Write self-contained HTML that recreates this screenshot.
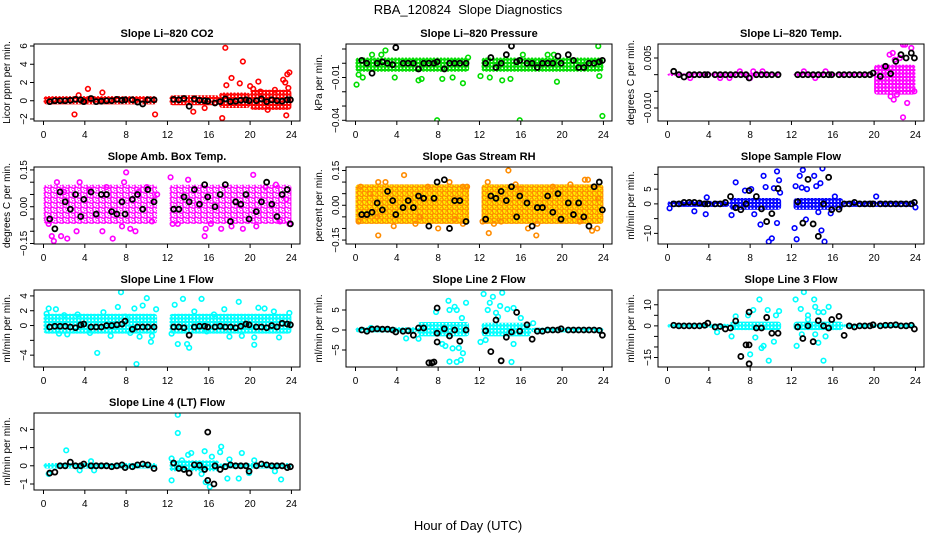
<!DOCTYPE html>
<html><head><meta charset="utf-8"><style>
body{margin:0;background:#fff}
svg{display:block;font-family:"Liberation Sans",sans-serif}
</style></head><body>
<svg id="c" width="936" height="540" viewBox="0 0 936 540">
<defs>
<pattern id="pat-red" width="3.5" height="3.5" patternUnits="userSpaceOnUse"><circle cx="1.75" cy="1.75" r="1.6" fill="none" stroke="#ff0000" stroke-width="1.4"/></pattern>
<pattern id="pat-green" width="3.5" height="3.5" patternUnits="userSpaceOnUse"><circle cx="1.75" cy="1.75" r="1.6" fill="none" stroke="#00dd00" stroke-width="1.4"/></pattern>
<pattern id="pat-magenta" width="3.5" height="3.5" patternUnits="userSpaceOnUse"><circle cx="1.75" cy="1.75" r="1.6" fill="none" stroke="#ff00ff" stroke-width="1.4"/></pattern>
<pattern id="pat-magenta-sparse" width="6" height="5" patternUnits="userSpaceOnUse"><circle cx="1.5" cy="1.5" r="1.8" fill="none" stroke="#ff00ff" stroke-width="1.4"/><circle cx="4.5" cy="4" r="1.8" fill="none" stroke="#ff00ff" stroke-width="1.4"/></pattern>
<pattern id="pat-orange" width="5" height="4.5" patternUnits="userSpaceOnUse"><rect width="5" height="4.5" fill="#ffee00"/><circle cx="1.5" cy="1.5" r="1.7" fill="none" stroke="#ff8c00" stroke-width="1.3"/><circle cx="4" cy="3.8" r="1.7" fill="none" stroke="#ff8c00" stroke-width="1.3"/></pattern>
<pattern id="pat-blue" width="3.5" height="3.5" patternUnits="userSpaceOnUse"><circle cx="1.75" cy="1.75" r="1.6" fill="none" stroke="#0000ff" stroke-width="1.4"/></pattern>
<pattern id="pat-cyan" width="3.5" height="3.5" patternUnits="userSpaceOnUse"><circle cx="1.75" cy="1.75" r="1.6" fill="none" stroke="#00ffff" stroke-width="1.4"/></pattern>
</defs>
<text x="468" y="14" text-anchor="middle" font-size="13" xml:space="preserve">RBA_120824  Slope Diagnostics</text>
<text x="468" y="530" text-anchor="middle" font-size="13">Hour of Day (UTC)</text>
</svg>
<script>
const blackTimes=[0.6,1.1,1.6,2.1,2.6,3.1,3.6,3.9,4.6,5.1,5.6,6.1,6.6,7.1,7.6,7.9,8.6,9.1,9.6,10.1,10.7,
12.6,13.1,13.6,14.1,14.6,15.1,15.6,15.9,16.6,17.1,17.6,18.1,18.6,19.1,19.6,19.9,20.6,21.1,21.6,22.1,22.6,23.1,23.6,23.9];
const xTicks=[0,4,8,12,16,20,24];

const p1Black=[-0.1,0,0,0,0.05,0.15,0.1,-0.1,0.25,-0.1,-0.05,0,0,0.15,0.05,0.1,0.1,-0.15,-0.35,0.1,0.1,
0.15,0.1,0.25,-0.6,0.2,0.05,0,-0.05,-0.25,-0.1,0.2,-0.1,-0.05,0.05,0.1,0,0,0.2,-0.1,0.1,0,-0.05,0.1,0.1];
const p1SegStart=[0,12.2,17,20], p1SegEnd=[11,17,20,24], p1Lo=[-0.4,-0.5,-0.8,-1.0], p1Hi=[0.5,0.6,0.9,1.2];
const p1Out=[[3,-1.5],[4.3,1.3],[5.7,0.9],[10.8,-1.5],[3.4,0.6],[17.6,5.8],[19.3,4.3],[17.7,1.7],[18.2,2.5],[19,1.9],[20.8,2.1],[20,1.6],[20.3,1.3],[23.2,2.3],[23.4,2.0],[23.6,2.9],[23.8,3.1],[23.7,1.4],[23.5,-1.6],[17.3,-1.9],[14.5,-1.2],[15.6,-0.8],[21.7,-1.0],[22.4,1.2],[21,1.0]];

const p2Black=[0.002,0,-0.007,0,0.001,0,-0.001,0.011,0,0,0,-0.004,0,0,0,0.001,-0.004,0,0,0,0,
0,0.004,-0.003,0,0.006,0.012,0.001,0.002,0,0,-0.003,0,0,0,0.005,0,0.006,0.002,-0.003,-0.003,0,0,0.001,0.002];
const p2SegStart=[0,12.2], p2SegEnd=[11,24], p2Lo=[-0.006,-0.006], p2Hi=[0.004,0.004];
const p2Out=[[0.1,-0.015],[0.3,-0.008],[0.7,-0.01],[2.9,0.009],[3.8,-0.01],[6.1,-0.012],[6.4,-0.011],[7.9,-0.04],[8.4,-0.011],[9.4,-0.01],[10.4,-0.014],[10.9,0.004],[12.1,-0.009],[13,-0.01],[14.2,-0.012],[15,-0.011],[15.9,-0.04],[16.2,0.006],[18.6,0.006],[19.2,0.006],[19.5,-0.013],[23.5,0.012],[23.6,-0.009],[23.9,-0.037],[1.6,0.006],[2.5,0.006]];

const p3Black=[0.001,0,-0.0007,0,0,0,0,0,0,0,0,0,0,0,0,-0.001,0,0,0,0,0,
0,0,0,0,0,0,0,0,0,0,0,0,0,0,0,0.0005,-0.0005,0.0025,0.0003,0.004,0.006,0.005,0.0065,0.005];
const p3SegStart=[0,12.2,20], p3SegEnd=[11,20,24], p3Lo=[-0.0004,-0.0004,-0.006], p3Hi=[0.0004,0.0004,0.003];
const p3Out=[[21.5,0.006],[21.8,0.0065],[22,0.0045],[22.5,0.005],[23,0.009],[22.8,0.009],[23.6,0.008],[23.2,-0.0085],[22.8,-0.0128],[23.9,-0.005],[21.9,-0.0075],[22.2,-0.006],[21.6,-0.0065],[7,0.001],[8.3,0.001],[9.2,0.001],[13.2,0.001],[15.3,0.001],[6,-0.001],[8,-0.001],[14.3,-0.001],[5.1,-0.001],[2.2,-0.001]];

const p4Black=[-0.05,-0.09,0.06,0.02,-0.01,0.05,-0.04,0.03,0.06,-0.03,0.05,0.05,-0.02,-0.03,0.02,-0.03,0.03,0.05,-0.01,0.07,0.02,
-0.01,-0.01,0.04,0.02,0.07,0.01,0.09,0.04,0,0.05,0.09,-0.06,0.02,0.01,0.05,-0.05,-0.02,0.02,0.1,0.01,-0.04,0.05,0.07,-0.07];
const p4SegStart=[0,12.2], p4SegEnd=[11,24], p4Lo=[-0.07,-0.07], p4Hi=[0.09,0.09];
const p4Out=[[0.5,-0.07],[0.8,-0.12],[1.0,-0.14],[1.3,0.1],[1.7,-0.12],[2,0.06],[2.3,-0.13],[3.2,-0.1],[3.5,0.1],[4.5,0.07],[5.7,-0.1],[6.1,0.08],[6.7,-0.13],[7.6,-0.08],[7.8,0.1],[8,0.14],[8.4,-0.09],[8.9,-0.1],[9.2,0.06],[10,0.08],[10.5,-0.06],[11,0.05],[12.3,0.12],[12.5,-0.07],[13,-0.07],[14,0.11],[15.6,-0.12],[15.7,-0.09],[16.2,-0.07],[17.2,-0.09],[18.2,-0.08],[19.3,-0.09],[20.3,0.13],[20.6,-0.08],[21.5,0.08],[22.5,0.09],[22.9,-0.06],[23.5,0.03],[23.8,-0.07]];

const p5Black=[-0.04,-0.04,-0.03,0.01,-0.02,0.06,0.02,-0.04,-0.01,0.02,-0.01,0.04,0.03,-0.09,0.03,0.10,0.11,-0.1,0.02,0.02,-0.07,
-0.06,0.04,0.03,0.06,0.02,0.08,-0.05,0.04,0.01,-0.09,-0.01,-0.01,0.04,-0.03,0.05,-0.06,0.01,-0.04,0.01,-0.05,-0.09,0.08,0.1,-0.02];
const p5SegStart=[0,12.2], p5SegEnd=[11,24], p5Lo=[-0.08,-0.08], p5Hi=[0.09,0.09];
const p5Out=[[0.5,0.08],[0.3,-0.07],[1.4,0.05],[2.2,0.1],[2.9,0.1],[2.1,-0.05],[2.2,-0.13],[3.7,-0.09],[4.7,0.13],[5.8,-0.08],[6.2,-0.05],[7,0.08],[8,-0.1],[9.1,0.1],[9.6,-0.06],[10.4,-0.08],[10.4,0.08],[10.8,0.08],[12.3,-0.07],[12.8,0.1],[12.9,-0.12],[13.4,-0.08],[14.1,-0.07],[14.8,0.15],[15.5,0.09],[16,0.07],[16.7,-0.1],[17.5,-0.13],[17.6,-0.08],[19.1,0.08],[20.8,0.09],[21.7,-0.07],[22.2,0.11],[22.5,0.11],[22.9,-0.11],[23.4,-0.1],[23.5,0.03]];

const p6Black=[0,0,0.5,0.5,0.5,0.3,0,0,0,0,0.5,2.5,-1.3,-2,0,4.5,2.5,-1.7,-6,-3.3,5.2,
0.7,-6.5,8.3,-6.8,-11,0,9,-2,-1.8,0,0,0.5,0,0,0,0,0,0,0,0,0,0,0,0.5];
const p6SegStart=[0,6,12.2,17], p6SegEnd=[6,11,17,24], p6Lo=[-1,-2,-2,-1], p6Hi=[1,2,2,1];
const p6Out=[[0.2,-1.5],[3.7,-3.5],[2.6,-2.5],[3.8,2.2],[6.2,-3.8],[6.6,7.3],[7.5,4.5],[8.1,5],[8.4,-3.5],[9,-7],[9.3,9.5],[9.5,5.7],[9.8,-12.8],[10.1,-11.7],[10.3,5.3],[10.6,-6.5],[10.6,11],[10.8,8],[10.9,3.8],[12.3,-8.2],[12.4,6],[12.5,-12],[12.8,9.5],[13,5.5],[13.1,11.5],[13.5,5],[13.4,-5.3],[14.2,9.5],[14.4,6],[14.6,-2.8],[14.8,7],[14.9,-9],[15,12],[15.2,-12.8],[15.8,-3.2],[16.2,2.5],[20.2,2.5],[24,-1.2]];

const p7Black=[-0.2,-0.1,-0.1,-0.1,-0.2,-0.3,0.1,0.2,-0.2,-0.2,-0.2,0,0,0.1,0.2,0.6,-0.5,-0.2,-0.2,-0.2,-0.2,
-0.2,-0.2,-0.3,-1.3,-0.2,-0.1,-0.1,-0.2,-0.2,-0.1,-0.2,-0.2,-0.3,-0.1,0.2,0.1,-0.2,-0.2,-0.3,0,-0.2,0.3,0.2,0.1];
const p7SegStart=[0,12.2], p7SegEnd=[11,24], p7Lo=[-1.1,-1.1], p7Hi=[1.6,1.6];
const p7Out=[[0.3,1.6],[0.5,2.3],[1.2,2.2],[1.5,-1.1],[2,1.4],[2.3,-1.2],[3.3,1.5],[4.5,-1],[5.2,-3.7],[5.8,1.8],[6.5,-1.4],[7.2,2.5],[7.5,4.5],[7.9,1.2],[8.4,-1],[8.8,2.3],[9,-5.2],[9.3,-1.5],[9.6,2.7],[10,3.7],[10.4,-2.2],[10.5,-1.4],[10.9,2.2],[12.4,-1.1],[12.7,2.8],[13,-2.5],[13.5,3.6],[13.9,-2.5],[14.1,-3],[14.6,1.9],[15.3,3.6],[15.8,-0.8],[16.5,1.5],[17.5,2.2],[18,-1.5],[18.9,3.2],[19.2,-1.4],[20.4,-1.6],[20.4,-2.6],[20.8,2.4],[21.4,2.3],[22.3,1.9],[22.8,-1.6],[23.8,1.7]];

const p8Black=[0,-0.3,0.2,0.3,0.2,0.2,0,-0.5,-0.3,-0.2,-1.3,0.5,0.5,-8.2,-8,5.5,0.3,-1.5,0,-2.8,0,
-0.2,-5.4,2.5,-7.7,-1.8,-0.5,4.4,-0.3,1.3,-2.3,-0.3,-0.3,0,0,0,0.3,0,0,0,0,0,0,-0.1,-1.3];
const p8SegStart=[0,6,12.2,17], p8SegEnd=[6,11,17,24], p8Lo=[-0.6,-1.6,-1.6,-0.6], p8Hi=[0.7,2,1.8,0.6];
const p8Out=[[1.5,0.5],[4.9,-2.1],[6.1,-2.2],[7.8,4.5],[8.4,-3.5],[8.7,-4],[9,7.3],[9.1,5],[9.1,-7.9],[9.4,-4.6],[9.6,5.8],[9.8,5],[9.8,-8],[10,-4.5],[10.2,-7.5],[10.3,3],[10.4,-5.8],[10.7,6.8],[12.1,-3],[12.4,9],[12.6,-2.5],[12.8,5],[13,6.8],[13.3,8.3],[13.6,4.3],[13.8,3.3],[14,6],[14.2,9.3],[14.7,5.2],[15.1,-8],[15.3,-3.5],[15.3,5.5],[16,3],[17.2,1.7]];
const p8Extra=[[7.9,-3],[7.9,-0.8],[7.4,-8.2]];

const p9Black=[0.3,0,0,0,0,0,0.3,1.3,-0.5,-0.3,-1.5,-1,2.3,-14.5,-9,6.5,-1,-1,4,-3.5,-3.5,
-0.5,-6,0,-7.5,2.5,0,-1,3,4.5,-4.5,0,-0.5,0,0,0,0.5,0,0.3,0.3,0.5,0,0,0.3,-1.5];
const p9SegStart=[0,6,12.2,17], p9SegEnd=[6,11,17,24], p9Lo=[-1,-2,-2,-1], p9Hi=[1,2,2,1];
const p9Out=[[4.8,-3],[6.2,-5],[6.6,4.5],[7.8,5],[8,-13.5],[8.3,7.5],[8.5,-5.5],[8.9,12.5],[9.1,-10.5],[9.3,-9.5],[9.8,-16.5],[9.7,7.5],[10.3,-7.5],[10.5,5],[10.8,7],[12.4,12.5],[12.5,-9.5],[12.9,8],[13,-4],[13.2,16],[13.6,5],[14.2,12.5],[14.3,9],[14.6,-8],[14.6,6.5],[15.1,-16.5],[15.1,6.5],[15.3,-5],[15.6,9],[13.6,3],[14.3,-4]];
const p9Extra=[[7.9,-18],[7.9,-9]];

const p10Black=[-0.4,-0.35,0,0,0.2,0,0,0.1,0,0,0,0,-0.05,0,0.05,-0.1,-0.05,0.05,0.1,0.05,-0.15,
0.15,-0.15,-0.2,-0.4,0.05,0.03,-0.2,1.85,0,-0.2,-0.05,0.05,0,0,0,-0.3,0,0.1,0.05,0,0,0,-0.1,-0.05];
const p10SegStart=[0,12.2,17], p10SegEnd=[11,17,24], p10Lo=[-0.15,-0.3,-0.15], p10Hi=[0.15,0.3,0.15];
const p10Out=[[0.5,-0.45],[2.2,0.85],[3.5,-0.25],[4.6,0.25],[4.9,-0.25],[12.4,-0.8],[12.4,0.4],[13,2.8],[13,1.8],[13.4,0.3],[14,0.6],[14.3,0.7],[15.3,-0.45],[15.6,0.8],[15.7,-0.9],[16.1,-1.15],[16.3,0.5],[17.1,0.75],[17.2,1.05],[17.8,-0.7],[18,0.35],[18.9,-0.7],[19.2,0.7],[19.9,-0.4],[20.4,0.3],[22.4,-0.3],[23,-0.75]];
const p10Extra=[[15.9,-0.8],[16.5,-1.0]];

const panels=[
{name:'co2',title:'Slope Li\u2013820 CO2',ylab:'Licor ppm per min.',col:0,row:0,ymin:-2.22,ymax:6.22,ticks:[-2,0,2,4,6],labels:['\u22122','0','2','4','6'],color:'#ff0000',pat:'pat-red',black:p1Black,ss:p1SegStart,se:p1SegEnd,lo:p1Lo,hi:p1Hi,out:p1Out,extra:[]},
{name:'pressure',title:'Slope Li\u2013820 Pressure',ylab:'kPa per min.',col:1,row:0,ymin:-0.0405,ymax:0.0135,ticks:[-0.04,-0.03,-0.02,-0.01,0,0.01],labels:['\u22120.04','','','\u22120.01','',''],color:'#00dd00',pat:'pat-green',black:p2Black,ss:p2SegStart,se:p2SegEnd,lo:p2Lo,hi:p2Hi,out:p2Out,extra:[]},
{name:'temp',title:'Slope Li\u2013820 Temp.',ylab:'degrees C per min.',col:2,row:0,ymin:-0.0139,ymax:0.0092,ticks:[-0.01,-0.005,0,0.005],labels:['\u22120.010','','','0.005'],color:'#ff00ff',pat:'pat-magenta',black:p3Black,ss:p3SegStart,se:p3SegEnd,lo:p3Lo,hi:p3Hi,out:p3Out,extra:[]},
{name:'amb-box-temp',title:'Slope Amb. Box Temp.',ylab:'degrees C per min.',col:0,row:1,ymin:-0.152,ymax:0.162,ticks:[-0.15,-0.1,-0.05,0,0.05,0.1,0.15],labels:['\u22120.15','','','0.00','','','0.15'],color:'#ff00ff',pat:'pat-magenta-sparse',black:p4Black,ss:p4SegStart,se:p4SegEnd,lo:p4Lo,hi:p4Hi,out:p4Out,extra:[]},
{name:'gas-stream-rh',title:'Slope Gas Stream RH',ylab:'percent per min.',col:1,row:1,ymin:-0.167,ymax:0.165,ticks:[-0.15,-0.1,-0.05,0,0.05,0.1,0.15],labels:['\u22120.15','','','0.00','','','0.15'],color:'#ff8c00',pat:'pat-orange',black:p5Black,ss:p5SegStart,se:p5SegEnd,lo:p5Lo,hi:p5Hi,out:p5Out,extra:[]},
{name:'sample-flow',title:'Slope Sample Flow',ylab:'ml/min per min.',col:2,row:1,ymin:-13.6,ymax:12.5,ticks:[-10,-5,0,5,10],labels:['\u221210','','0','5',''],color:'#0000ff',pat:'pat-blue',black:p6Black,ss:p6SegStart,se:p6SegEnd,lo:p6Lo,hi:p6Hi,out:p6Out,extra:[]},
{name:'line1-flow',title:'Slope Line 1 Flow',ylab:'ml/min per min.',col:0,row:2,ymin:-5.6,ymax:4.8,ticks:[-4,-2,0,2,4],labels:['\u22124','','0','2','4'],color:'#00ffff',pat:'pat-cyan',black:p7Black,ss:p7SegStart,se:p7SegEnd,lo:p7Lo,hi:p7Hi,out:p7Out,extra:[]},
{name:'line2-flow',title:'Slope Line 2 Flow',ylab:'ml/min per min.',col:1,row:2,ymin:-9.25,ymax:10,ticks:[-5,0,5],labels:['\u22125','0','5'],color:'#00ffff',pat:'pat-cyan',black:p8Black,ss:p8SegStart,se:p8SegEnd,lo:p8Lo,hi:p8Hi,out:p8Out,extra:p8Extra},
{name:'line3-flow',title:'Slope Line 3 Flow',ylab:'ml/min per min.',col:2,row:2,ymin:-19.5,ymax:17,ticks:[-15,-10,-5,0,5,10],labels:['\u221215','','','0','','10'],color:'#00ffff',pat:'pat-cyan',black:p9Black,ss:p9SegStart,se:p9SegEnd,lo:p9Lo,hi:p9Hi,out:p9Out,extra:p9Extra},
{name:'line4-flow',title:'Slope Line 4 (LT) Flow',ylab:'ml/min per min.',col:0,row:3,ymin:-1.33,ymax:2.9,ticks:[-1,0,1,2],labels:['\u22121','0','1','2'],color:'#00ffff',pat:'pat-cyan',black:p10Black,ss:p10SegStart,se:p10SegEnd,lo:p10Lo,hi:p10Hi,out:p10Out,extra:p10Extra}
];

const X0=-0.92,X1=24.83,W=266,H=77;
const NS='http://www.w3.org/2000/svg';
const svg=document.getElementById('c');
function mk(tag,attrs,parent){const e=document.createElementNS(NS,tag);for(const k in attrs)e.setAttribute(k,attrs[k]);parent.appendChild(e);return e;}

panels.forEach((p,i)=>{
  const L=34+p.col*312, T=44+p.row*123;
  const xs=t=>L+(t-X0)/(X1-X0)*W;
  const ys=v=>T+(p.ymax-v)/(p.ymax-p.ymin)*H;
  const g=mk('g',{},svg);
  
  
  const cp=mk('clipPath',{id:'clip'+i},g);
  mk('rect',{x:L,y:T,width:W,height:H},cp);
  const title=mk('text',{x:L+W/2,y:T-7,'text-anchor':'middle','font-size':'11','font-weight':'bold'},g);
  title.textContent=p.title;
  
  
  const yl=mk('text',{transform:`translate(${L-24},${T+H/2}) rotate(-90)`,'text-anchor':'middle','font-size':'10'},g);
  yl.textContent=p.ylab;
  
  
  const plot=mk('g',{'clip-path':`url(#clip${i})`},g);
  
  
  p.ss.forEach((s,k)=>{
    const r=mk('rect',{x:xs(s),y:ys(p.hi[k]),width:xs(p.se[k])-xs(s),height:ys(p.lo[k])-ys(p.hi[k]),fill:`url(#${p.pat})`,rx:3},plot);
    
    
  });
  p.out.forEach(d=>{
    const c=mk('circle',{cx:xs(d[0]),cy:ys(d[1]),r:2.3,fill:'none',stroke:p.color,'stroke-width':1.6},plot);
    
    
  });
  p.black.forEach((v,k)=>{
    const c=mk('circle',{cx:xs(blackTimes[k]),cy:ys(v),r:2.5,fill:'none',stroke:'#000','stroke-width':1.8},plot);
    
    
  });
  p.extra.forEach(d=>{
    const c=mk('circle',{cx:xs(d[0]),cy:ys(d[1]),r:2.5,fill:'none',stroke:'#000','stroke-width':1.8},plot);
    
    
  });
  const box=mk('rect',{x:L,y:T,width:W,height:H,fill:'none',stroke:'#000','stroke-width':1},g);
  
  
  xTicks.forEach(t=>{
    mk('line',{x1:xs(t),x2:xs(t),y1:T+H,y2:T+H+4,stroke:'#000'},g);
    const tx=mk('text',{x:xs(t),y:T+H+17,'text-anchor':'middle','font-size':'10'},g);
    tx.textContent=String(t);
    
    
  });
  p.ticks.forEach((v,k)=>{
    mk('line',{x1:L-4,x2:L,y1:ys(v),y2:ys(v),stroke:'#000'},g);
    if(p.labels[k]){
      const tx=mk('text',{transform:`translate(${L-7},${ys(v)}) rotate(-90)`,'text-anchor':'middle','font-size':'10'},g);
      tx.textContent=p.labels[k];
      
      
    }
  });
});
</script>
</body></html>
